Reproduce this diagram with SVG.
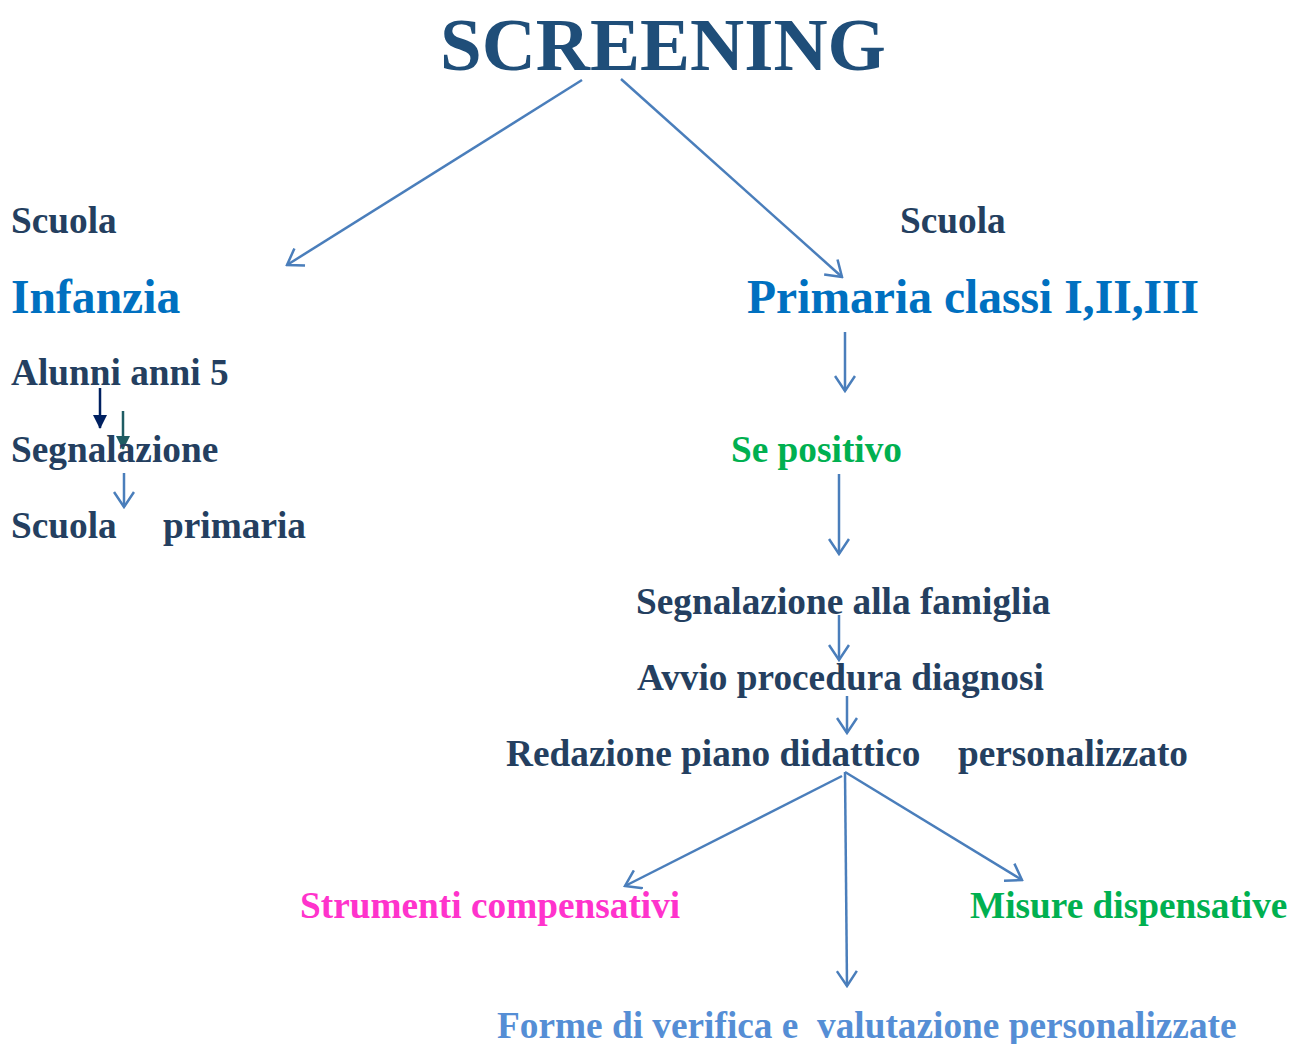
<svg xmlns="http://www.w3.org/2000/svg" width="1292" height="1044" viewBox="0 0 1292 1044">
  <style>
    text { font-family: "Liberation Serif", "Times New Roman", serif; font-weight: bold; }
    .dark { fill: #243F60; font-size: 37.3px; }
    .big { fill: #0070C0; font-size: 47.6px; }
    .title { fill: #1F4E79; font-size: 75px; }
    .green { fill: #00B050; font-size: 37.3px; }
    .pink { fill: #FF33CC; font-size: 37.3px; }
    .light { fill: #558ED5; font-size: 37.3px; }
    .conn { stroke: #4A7EBB; stroke-width: 2.5; fill: none; marker-end: url(#open); }
  </style>
  <defs>
    <marker id="open" viewBox="0 0 18 22" refX="16" refY="11" markerWidth="18" markerHeight="22" markerUnits="userSpaceOnUse" orient="auto">
      <path d="M1,1 L16,11 L1,21" fill="none" stroke="#4A7EBB" stroke-width="2.5"/>
    </marker>
    <marker id="navy" viewBox="0 0 14 14" refX="13" refY="7" markerWidth="14" markerHeight="14" markerUnits="userSpaceOnUse" orient="auto">
      <path d="M0,0 L14,7 L0,14 Z" fill="#002060"/>
    </marker>
    <marker id="teal" viewBox="0 0 14 14" refX="13" refY="7" markerWidth="14" markerHeight="14" markerUnits="userSpaceOnUse" orient="auto">
      <path d="M0,0 L14,7 L0,14 Z" fill="#1F5C63"/>
    </marker>
  </defs>

  <g id="connectors">
    <line class="conn" x1="582" y1="80" x2="287" y2="265"/>
    <line class="conn" x1="621" y1="79" x2="842" y2="277"/>
    <line class="conn" x1="845" y1="332" x2="845" y2="391"/>
    <line class="conn" x1="839" y1="474" x2="839" y2="554"/>
    <line class="conn" x1="839" y1="615" x2="839" y2="660"/>
    <line class="conn" x1="847" y1="696" x2="847" y2="733"/>
    <line class="conn" x1="842" y1="776" x2="625" y2="886"/>
    <line class="conn" x1="845" y1="772" x2="847" y2="986"/>
    <line class="conn" x1="845" y1="772" x2="1022" y2="880"/>
    <line x1="100" y1="388" x2="100" y2="428" stroke="#002060" stroke-width="2.5" marker-end="url(#navy)"/>
    <line x1="123" y1="411" x2="123" y2="449" stroke="#1F5C63" stroke-width="2.5" marker-end="url(#teal)"/>
    <line class="conn" x1="124" y1="473" x2="124" y2="507"/>
  </g>

  <g id="screening"><text class="title" x="440" y="70">SCREENING</text></g>

  <g id="infanzia">
    <text class="dark" x="11" y="233">Scuola</text>
    <text class="big" x="11" y="313">Infanzia</text>
  </g>
  <g id="alunni"><text class="dark" x="11" y="385">Alunni anni 5</text></g>
  <g id="segnalazione"><text class="dark" x="11" y="462">Segnalazione</text></g>
  <g id="scuola-primaria">
    <text class="dark" x="11" y="538">Scuola</text>
    <text class="dark" x="163" y="538">primaria</text>
  </g>

  <g id="primaria">
    <text class="dark" x="900" y="233">Scuola</text>
    <text class="big" x="747" y="313">Primaria classi I,II,III</text>
  </g>
  <g id="se-positivo"><text class="green" x="731" y="462">Se positivo</text></g>
  <g id="segnalazione-famiglia"><text class="dark" x="636" y="614">Segnalazione alla famiglia</text></g>
  <g id="avvio-diagnosi"><text class="dark" x="637" y="690">Avvio procedura diagnosi</text></g>
  <g id="piano-didattico">
    <text class="dark" x="506" y="766">Redazione piano didattico</text>
    <text class="dark" x="958" y="766">personalizzato</text>
  </g>
  <g id="strumenti"><text class="pink" x="300" y="918">Strumenti compensativi</text></g>
  <g id="misure"><text class="green" x="970" y="918">Misure dispensative</text></g>
  <g id="verifica"><text class="light" x="497" y="1038" xml:space="preserve">Forme di verifica e  valutazione personalizzate</text></g>
</svg>
